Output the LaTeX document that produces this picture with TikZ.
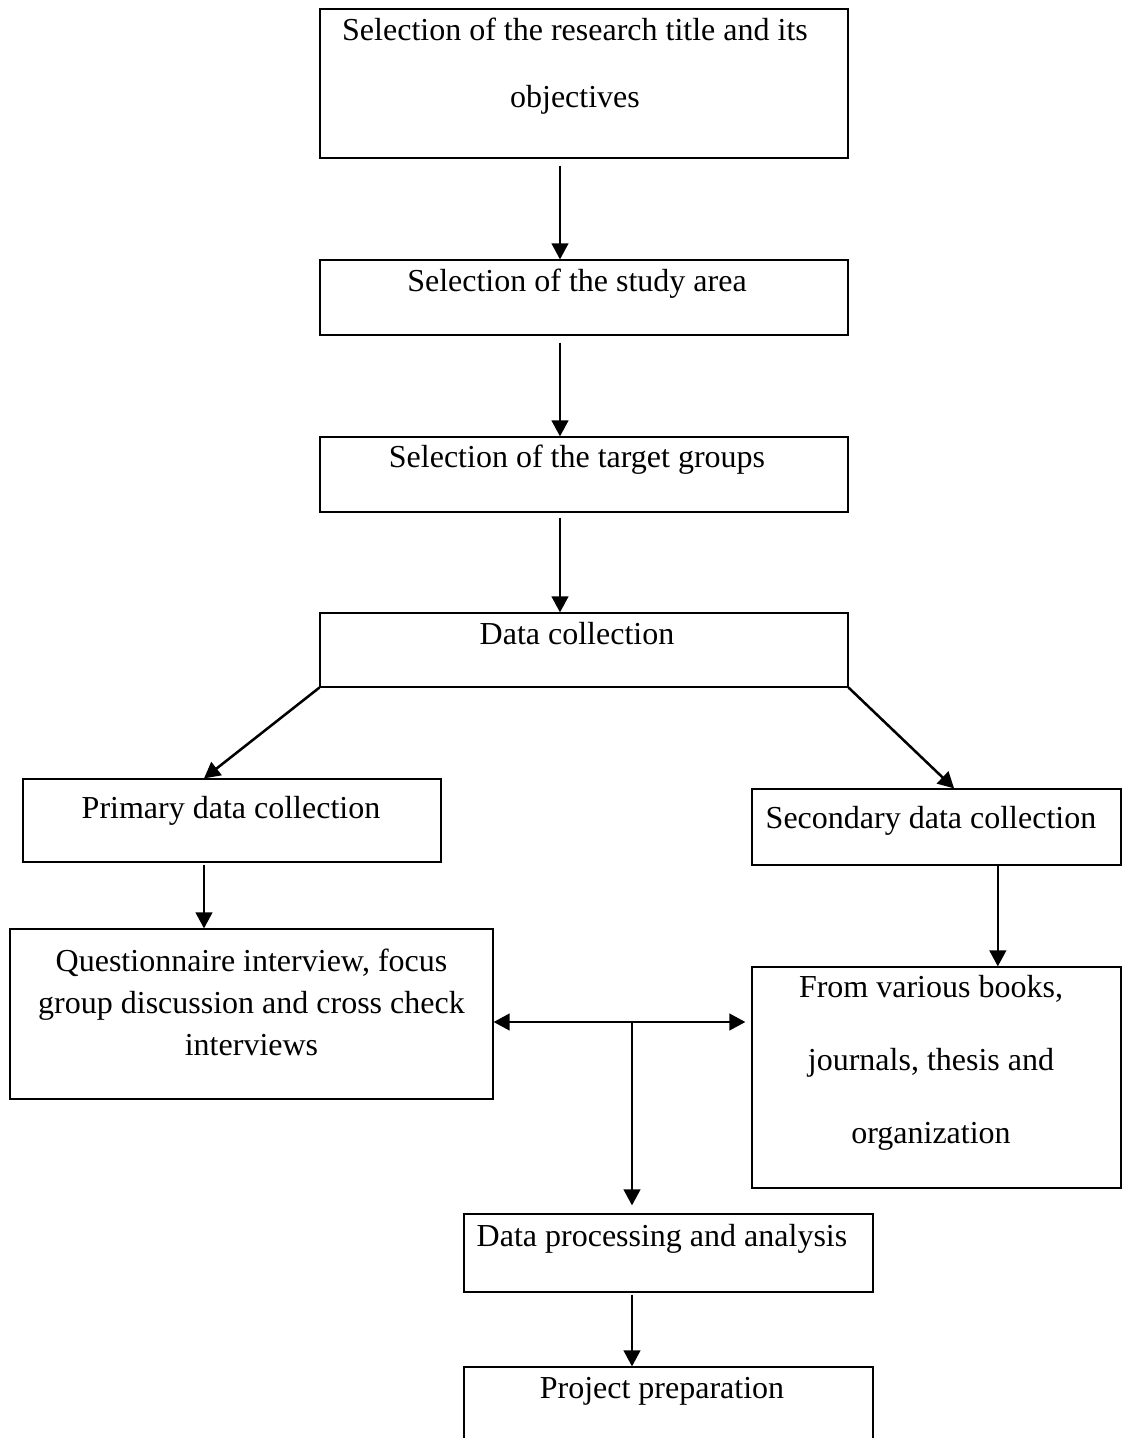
\documentclass[tikz,border=0pt]{standalone}
\usepackage{fontspec}
\setmainfont{Liberation Serif}
\usetikzlibrary{arrows.meta}

\begin{document}
\begin{tikzpicture}[x=0.375pt, y=-0.375pt,
  stage/.style 2 args={draw, line width=0.45pt, inner sep=0pt,
    minimum width=#1*0.375pt, minimum height=#2*0.375pt},
  txt/.style={inner sep=0pt, font=\fontsize{12}{14}\selectfont},
  arr/.style={line width=0.95pt, -{Triangle[length=6pt,width=6.2pt]}},
  arrboth/.style={line width=0.95pt, {Triangle[length=6pt,width=6.2pt]}-{Triangle[length=6pt,width=6.2pt]}}]
  \useasboundingbox (0,0) rectangle (1122,1438);

  % Boxes
  \node[stage={528}{149}] (sel) at (584,83.5) {};
  \node[stage={528}{75}] (area) at (584,297.5) {};
  \node[stage={528}{75}] (targ) at (584,474.5) {};
  \node[stage={528}{74}] (data) at (584,650) {};
  \node[stage={418}{83}] (prim) at (232,820.5) {};
  \node[stage={369}{76}] (sec) at (936.5,827) {};
  \node[stage={483}{170}] (qst) at (251.5,1014) {};
  \node[stage={369}{221}] (from) at (936.5,1077.5) {};
  \node[stage={409}{78}] (proc) at (668.5,1253) {};
  \node[stage={409}{78}] (proj) at (668.5,1406) {};

  % Texts
  \node[txt, anchor=north, align=center, font=\fontsize{12}{25.1}\selectfont] (selT) at (575,17)
    {Selection of the research title and its\\objectives};
  \node[txt, anchor=base] (areaT) at (577,291) {Selection of the study area};
  \node[txt, anchor=base] (targT) at (577,467) {Selection of the target groups};
  \node[txt, anchor=base] (dataT) at (577,644) {Data collection};
  \node[txt, anchor=base] (primT) at (231,818) {Primary data collection};
  \node[txt, anchor=base] (secT) at (931,828) {Secondary data collection};
  \node[txt, anchor=north, align=center, font=\fontsize{12}{15.75}\selectfont] (qstT) at (251.5,948)
    {Questionnaire interview, focus\\group discussion and cross check\\interviews};
  \node[txt, anchor=north, align=center, font=\fontsize{12}{27.4}\selectfont] (fromT) at (931,975)
    {From various books,\\journals, thesis and\\organization};
  \node[txt, anchor=base] (procT) at (662,1246) {Data processing and analysis};
  \node[txt, anchor=base] (projT) at (662,1398) {Project preparation};

  % Arrows
  \coordinate (spine) at (560,0);
  \coordinate (hub) at (632,1022);
  \draw[arr, shorten <=2.6pt] (spine |- sel.south) -- (spine |- area.north);
  \draw[arr, shorten <=2.6pt] (spine |- area.south) -- (spine |- targ.north);
  \draw[arr, shorten <=1.9pt] (spine |- targ.south) -- (spine |- data.north);
  \draw[arr] (data.south west) -- ([xshift=-10.5pt]prim.north);
  \draw[arr] (data.south east) -- ([xshift=6.6pt]sec.north);
  \draw[arr, shorten <=0.75pt] ([xshift=-10.5pt]prim.south) -- ([xshift=-10.5pt]prim.south |- qst.north);
  \draw[arr] ([xshift=23pt]sec.south) -- ([xshift=23pt]sec.south |- from.north);

  % Middle split
  \draw[arrboth, shorten >=2.25pt] (hub -| qst.east) -- (hub -| from.west);
  \draw[arr, shorten >=3pt] (hub) -- (hub |- proc.north);
  \draw[arr, shorten <=0.75pt] (hub |- proc.south) -- (hub |- proj.north);
\end{tikzpicture}
\end{document}
